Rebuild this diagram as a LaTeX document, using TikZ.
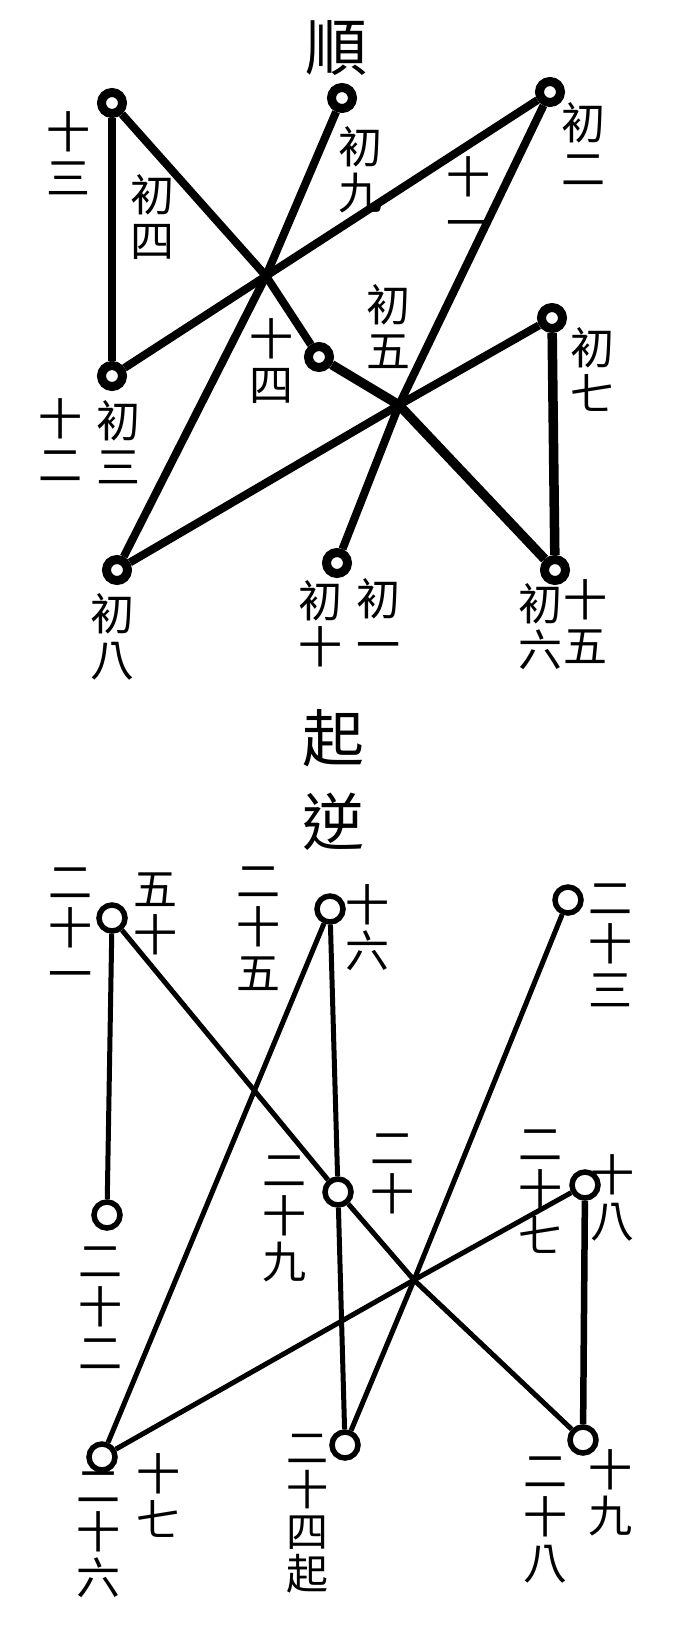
\documentclass[tikz,border=0pt]{standalone}
\usepackage{fontspec}
\newfontfamily\cjk{Noto Sans CJK TC}

\tikzset{
	ring/.style={circle, draw, fill=white, line width=9pt, minimum size=21pt, inner sep=0pt},
	ringb/.style={circle, draw, fill=white, line width=5.5pt, minimum size=26pt, inner sep=0pt},
	lab/.style={font=\cjk\fontsize{44}{46}\selectfont, align=center, inner sep=0pt},
	title/.style={font=\cjk\fontsize{62}{84}\selectfont, align=center, inner sep=0pt},
	link/.style={line width=8pt, line join=round},
	linkb/.style={line width=5pt, line join=round},
}

\begin{document}
\begin{tikzpicture}[x=1pt, y=-1pt]
		
		\useasboundingbox (0,0) rectangle (674,1631);
		
		% upper figure
		\node[ring] (a) at (112,103) {};
		\node[ring] (b) at (112,376) {};
		\node[ring] (tc) at (342,98) {};
		\node[ring] (tr) at (550,92) {};
		\node[ring] (r7) at (552,318) {};
		\node[ring] (s) at (319,357) {};
		\node[ring] (e8) at (117,570) {};
		\node[ring] (e10) at (337,563) {};
		\node[ring] (e6) at (555,570) {};
		\coordinate (x1) at (266,276);
		\coordinate (x2) at (399,405);
		
		\draw[link] (a) -- (b);
		\draw[link] (a) -- (x1) -- (s);
		\draw[link, line width=9.5pt] (s) -- (x2) -- (e6);
		\draw[link] (b) -- (x1) -- (tr);
		\draw[link] (tc) -- (x1) -- (e8);
		\draw[link] (tr) -- (x2) -- (e10);
		\draw[link] (e8) -- (x2) -- (r7);
		\draw[link, line width=9.5pt] (r7) -- (e6);
		
		\node[title] (shun) at (336,48) {順};
		\node[lab] (d13) at (68,153) {十\\三};
		\node[lab] (d4) at (152,217) {初\\四};
		\node[lab] (d9) at (360,170) {初\\九};
		\node[lab] (d2) at (583,144) {初\\二};
		\node[lab] (d11) at (468,198) {十\\一};
		\node[lab] (d5) at (388,327) {初\\五};
		\node[lab] (d14) at (271,361) {十\\四};
		\node[lab] (d12) at (60,440) {十\\二};
		\node[lab] (d3) at (118,442) {初\\三};
		\node[lab] (d7) at (592,369) {初\\七};
		\node[lab] (d8) at (112,637) {初\\八};
		\node[lab] (d10) at (320,624) {初\\十};
		\node[lab] (d1) at (378,620) {初\\一};
		\node[lab] (d6) at (540,627) {初\\六};
		\node[lab] (d15) at (585,622) {十\\五};
		
		\node[title] (niqi) at (333,780) {起\\逆};
		
		% lower figure
		\node[ringb] (n21) at (112,918) {};
		\node[ringb] (n25) at (330,909) {};
		\node[ringb] (n23) at (568,900) {};
		\node[ringb] (n22) at (107,1215) {};
		\node[ringb] (n20) at (338,1192) {};
		\node[ringb] (n27) at (585,1185) {};
		\node[ringb] (n26) at (102,1457) {};
		\node[ringb] (n24) at (345,1445) {};
		\node[ringb] (n28) at (583,1440) {};
		\coordinate (x3) at (414,1280);
		
		\draw[linkb] (n21) -- (n22);
		\draw[linkb] (n21) -- (n20) -- (x3) -- (n28);
		\draw[linkb] (n25) -- (n26);
		\draw[linkb] (n25) -- (n20) -- (n24);
		\draw[linkb] (n23) -- (x3) -- (n24);
		\draw[linkb] (n26) -- (x3) -- (n27);
		\draw[linkb, line width=6.5pt] (n27) -- (n28);
		
		\node[lab] (m21) at (70,929) {二\\十\\一};
		\node[lab] (m50) at (155,914) {五\\十};
		\node[lab] (m25) at (258,929) {二\\十\\五};
		\node[lab] (m16) at (367,928) {十\\六};
		\node[lab] (m23) at (610,945) {二\\十\\三};
		\node[lab] (m22) at (100,1308) {二\\十\\二};
		\node[lab] (m29) at (284,1219) {二\\十\\九};
		\node[lab] (m20) at (392,1174) {二\\十};
		\node[lab] (m27) at (540,1192) {二\\十\\七};
		\node[lab] (m18) at (612,1198) {十\\八};
		\node[lab] (m26) at (98,1535) {二\\十\\六};
		\node[lab] (m17) at (158,1496) {十\\七};
		\node[lab, font=\cjk\fontsize{42}{42}\selectfont] (m24) at (307,1514) {二\\十\\四\\起};
		\node[lab] (m28) at (545,1520) {二\\十\\八};
		\node[lab] (m19) at (610,1493) {十\\九};
		
\end{tikzpicture}
\end{document}
